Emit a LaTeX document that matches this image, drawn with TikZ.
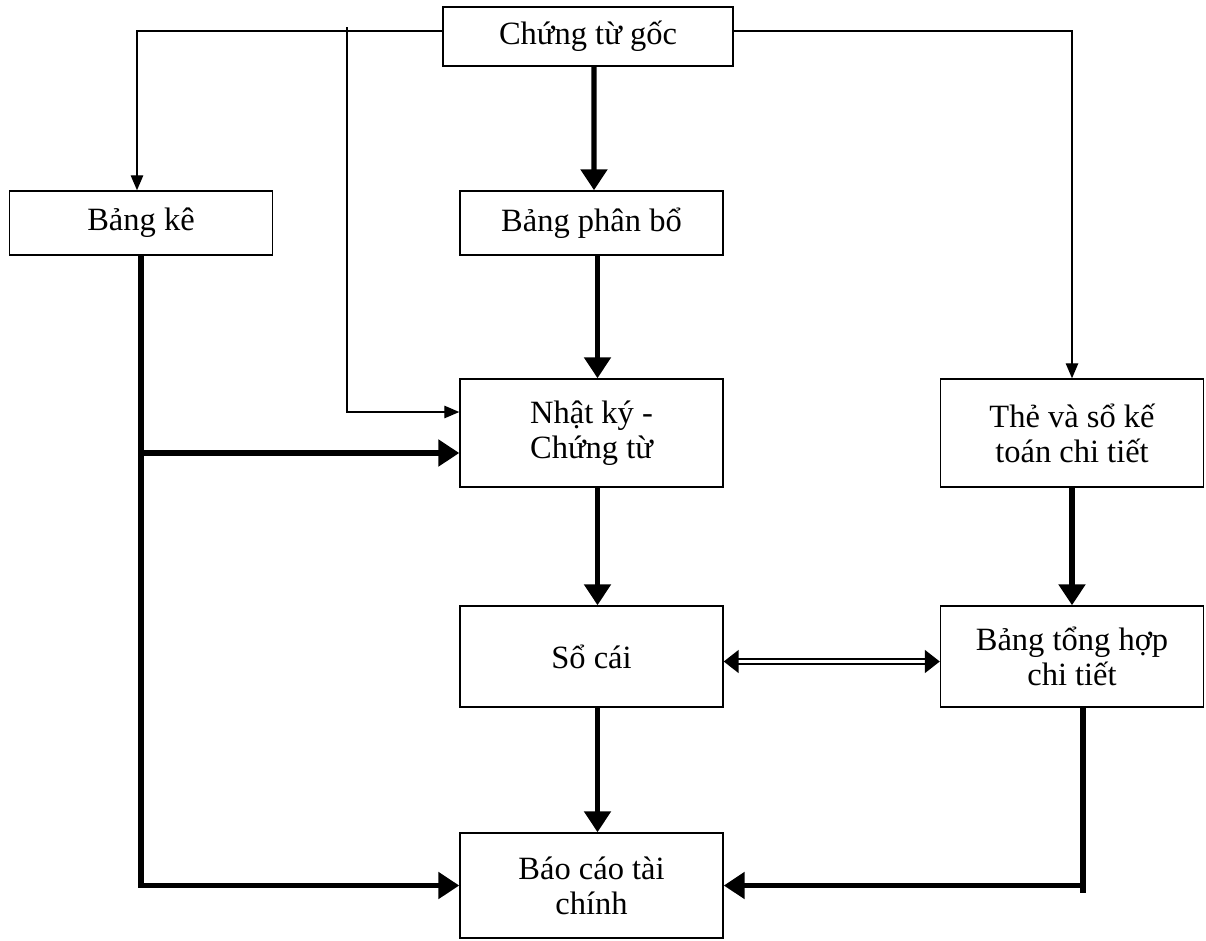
\documentclass[tikz,border=0pt]{standalone}
\usepackage{fontspec}
\setmainfont{Liberation Serif}
\usetikzlibrary{arrows.meta}
\tikzset{
  box/.style={draw,line width=0.85pt,inner sep=0pt,align=center,minimum width=5.26cm,
    font=\fontsize{18.5}{20}\selectfont},
  flow/.style={line width=0.8pt,-{Triangle[length=0.3cm,width=0.25cm]}},
  mainline/.style={line width=3pt},
  mainflow/.style={line width=3pt,-{Triangle[length=0.42cm,width=0.52cm]}},
  twoway/.style={line width=1pt,double distance=2pt,
    {Triangle[length=0.3cm,width=0.46cm]}-{Triangle[length=0.3cm,width=0.46cm]}}
}
\begin{document}
\begin{tikzpicture}[x=0.02cm,y=-0.02cm]
\useasboundingbox (0,0) rectangle (1206,940);

\node[box,minimum width=5.8cm,minimum height=1.18cm] (goc) at (588,36.5) {Chứng từ gốc};
\node[box,minimum height=1.28cm] (bangke) at (141,223) {Bảng kê};
\node[box,minimum height=1.28cm] (phanbo) at (591.5,223) {Bảng phân bổ};
\node[box,minimum height=2.16cm] (nhatky) at (591.5,433) {Nhật ký -\\Chứng từ};
\node[box,minimum height=2.16cm] (chitiet) at (1072,433) {Thẻ và sổ kế\\toán chi tiết};
\node[box,minimum height=2.02cm] (socai) at (591.5,656.5) {Sổ cái};
\node[box,minimum height=2.02cm] (tonghop) at (1072,656.5) {Bảng tổng hợp\\chi tiết};
\node[box,minimum height=2.1cm] (baocao) at (591.5,885.5) {Báo cáo tài\\chính};

\coordinate (tl) at (137,31);
\coordinate (ts) at (347,27);
\coordinate (nk) at (347,412);
\coordinate (bk) at (139,453);
\coordinate (bt) at (1083,893);

\draw[flow] (goc.west |- tl) -- (tl) -- (tl |- bangke.north);
\draw[flow] (goc.east |- tl) -| (chitiet.north);
\draw[flow] (ts) -- (nk) -- (nhatky.west |- nk);

\draw[mainflow] ([xshift=0.12cm]goc.south) -- ([xshift=0.05cm]phanbo.north);
\draw[mainflow] ([xshift=0.12cm]phanbo.south) -- ([xshift=0.12cm]nhatky.north);
\draw[mainflow] ([xshift=0.12cm]nhatky.south) -- ([xshift=0.12cm]socai.north);
\draw[mainflow] ([xshift=0.12cm]socai.south) -- ([xshift=0.12cm]baocao.north);
\draw[mainflow] (chitiet.south) -- (tonghop.north);

\draw[mainflow] (bangke.south) |- (baocao.west);
\draw[mainflow] (bk) -- (nhatky.west |- bk);
\draw[mainline] (tonghop.south -| bt) -- (bt);
\draw[mainflow] ([xshift=-0.05cm]bt |- baocao.east) -- (baocao.east);

\draw[twoway] ([yshift=-0.1cm]socai.east) -- ([yshift=-0.1cm]tonghop.west);

\end{tikzpicture}
\end{document}
